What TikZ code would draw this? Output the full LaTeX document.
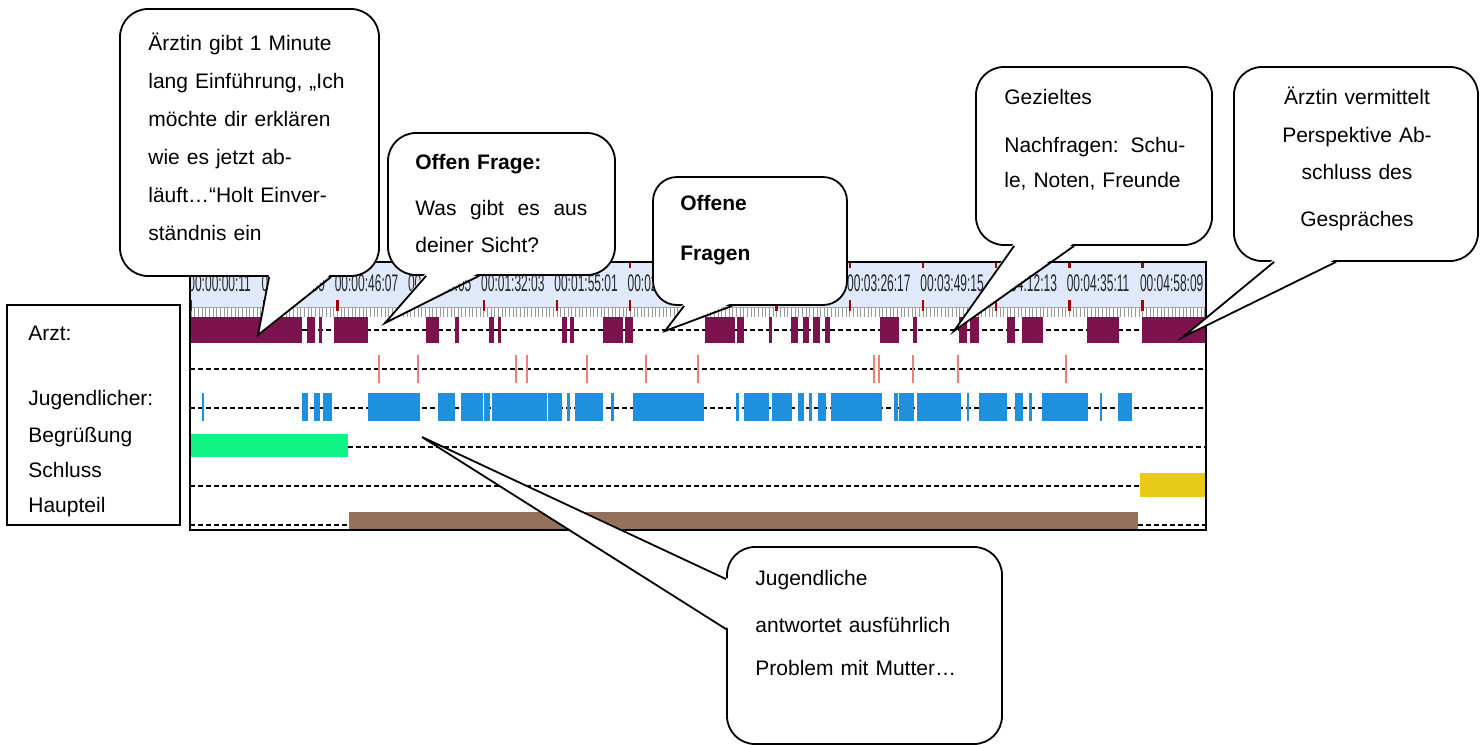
\documentclass[tikz,border=0pt]{standalone}
\usepackage{fontspec}
\setmainfont{Liberation Sans}
\usepackage{graphicx}
\usetikzlibrary{calc}

\definecolor{kopf}{RGB}{223,233,250}
\definecolor{arzt}{RGB}{124,18,78}
\definecolor{lachs}{RGB}{240,128,118}
\definecolor{jugend}{RGB}{30,144,222}
\definecolor{gruen}{RGB}{16,244,134}
\definecolor{gelb}{RGB}{232,202,24}
\definecolor{braun}{RGB}{148,113,90}
\definecolor{marke}{RGB}{160,0,0}

\newcommand{\zeit}[1]{\scalebox{0.5}[1]{#1}}

\begin{document}
\begin{tikzpicture}[x=0.5pt, y=-0.5pt]

\tikzset{
  blase/.style={rectangle, rounded corners=14pt, draw=black,
    line width=0.9pt, fill=white, inner sep=0pt},
  notiz/.style={anchor=base west, inner sep=0pt, align=left,
    font=\fontsize{10.5}{19}\selectfont},
  punkte/.style={dash pattern=on 2.4pt off 1.6pt, line width=0.9pt},
  zunge/.style={line width=0.9pt}
}

\useasboundingbox (0,0) rectangle (1480,745);
\fill[white] (0,0) rectangle (1480,745);

% ---- TIMELINE ----
\begin{scope}
\clip (190,262) rectangle (1206,530);
\fill[kopf] (190,262) rectangle (1206,307);
\draw[gray!70, line width=0.5pt] (190,307) -- (1206,307);
\foreach \i in {0,...,277}
  \draw[gray!80, line width=0.35pt] ({191+3.66*\i},308) -- ++(0,9);
\foreach \lab [count=\k from 0] in {00:00:00:11, 00:00:23:09, 00:00:46:07,
    00:01:09:05, 00:01:32:03, 00:01:55:01, 00:02:17:29, 00:02:40:27,
    00:03:03:25, 00:03:26:17, 00:03:49:15, 00:04:12:13, 00:04:35:11,
    00:04:58:09}
  \node[anchor=base west, inner sep=0pt, font=\fontsize{12}{12}\selectfont,
    text=black!85] at ({188+73.2*\k},291.5) {\zeit{\lab}};
\foreach \k in {0,...,13} {
  \draw[marke, line width=1.2pt] ({191+73.2*\k},262) -- ++(0,6);
  \draw[marke, line width=1.2pt] ({191+73.2*\k},300) -- ++(0,11);
}

% rows
\draw[punkte] (190,330) -- (1206,330);
\draw[punkte] (190,369) -- (1206,369);
\draw[punkte] (190,408) -- (1206,408);
\draw[punkte] (348,447) -- (1206,447);
\draw[punkte] (190,486) -- (1140,486);
\draw[punkte] (190,525) -- (349,525);
\draw[punkte] (1138,525) -- (1206,525);

\foreach \a/\b in {191/302, 307/315, 319/322, 334/368, 426/439, 455/459,
    489/494, 498/501, 562/567, 570/574, 603/623, 625/633, 705/735, 737/744,
    769/772, 791/798, 803/809, 813/820, 825/830, 880/899, 913/917, 959/967,
    970/979, 1007/1015, 1022/1043, 1087/1119, 1142/1206}
  \fill[arzt] (\a,317) rectangle (\b,343);
\foreach \a in {379, 418, 516, 527, 587, 646, 698, 874, 879, 913, 958, 1066}
  \draw[lachs, line width=0.8pt] (\a,355) -- (\a,383);
\foreach \a/\b in {202/204, 302/308, 314/320, 323/332, 368/420, 438/455,
    461/483, 484/490, 492/547, 548/562, 567/570, 575/603, 611/614, 633/704,
    736/739, 744/769, 772/792, 798/804, 809/812, 818/826, 831/882, 894/898,
    899/914, 917/961, 967/969, 979/1007, 1015/1023, 1029/1032, 1042/1088,
    1100/1102, 1118/1132}
  \fill[jugend] (\a,393) rectangle (\b,421);
\fill[gruen] (190,434) rectangle (348,457);
\fill[gelb]  (1140,473) rectangle (1206,497);
\fill[braun] (349,512) rectangle (1138,530);
\end{scope}
\draw[line width=1pt] (190,262) rectangle (1206,530);

% ---- LEGEND ----
\node (legende) [draw, line width=0.8pt, inner sep=0pt,
  minimum width=86.5pt, minimum height=110pt] at (93.5,415) {};
\node (zeilen) [notiz, text width=75pt, font=\fontsize{10.5}{17.5}\selectfont]
  at (28,340.5) {Arzt:\\[15pt]Jugendlicher:\\[1pt]Begrüßung\\Schluss\\Haupteil};

% ---- CALLOUTS ----
\node (b1) [blase, minimum width=129.5pt, minimum height=133.5pt] at (249.5,142.5) {};
\coordinate (z1) at (258,335);
\fill[white] ($(b1.south west)+(150,-3)$) -- (z1) -- ($(b1.south west)+(212,-3)$) -- cycle;
\draw[zunge] ($(b1.south west)+(150,0)$) -- (z1) -- ($(b1.south west)+(212,0)$);
\node (t1) [notiz, text width=100pt] at (148,50.5)
  {Ärztin gibt 1 Minute\\lang Einführung, „Ich\\möchte dir erklären\\wie es jetzt ab-\\läuft…“Holt Einver-\\ständnis ein};

\node (b2) [blase, minimum width=113.5pt, minimum height=71pt] at (501.5,204) {};
\coordinate (z2) at (385,323);
\fill[white] ($(b2.south west)+(39,-3)$) -- (z2) -- ($(b2.south west)+(92,-3)$) -- cycle;
\draw[zunge] ($(b2.south west)+(39,0)$) -- (z2) -- ($(b2.south west)+(92,0)$);
\node (t2) [notiz, text width=86pt, font=\fontsize{10.5}{18.5}\selectfont] at (415,169.5)
  {\textbf{Offen Frage:}\\[4.5pt]Was\hfill gibt\hfill es\hfill aus\\deiner Sicht?};

\node (b3) [blase, rounded corners=12pt, minimum width=97pt, minimum height=64pt] at (750,241) {};
\coordinate (z3) at (665,331);
\fill[white] ($(b3.south west)+(32,-3)$) -- (z3) -- ($(b3.south west)+(80,-3)$) -- cycle;
\draw[zunge] ($(b3.south west)+(32,0)$) -- (z3) -- ($(b3.south west)+(80,0)$);
\node (t3) [notiz, text width=80pt, font=\fontsize{10.5}{25}\selectfont\bfseries] at (680,210.5)
  {Offene\\Fragen};

\node (b4) [blase, minimum width=118pt, minimum height=89pt] at (1094,156) {};
\coordinate (z4) at (954,331);
\fill[white] ($(b4.south west)+(39,-3)$) -- (z4) -- ($(b4.south west)+(99,-3)$) -- cycle;
\draw[zunge] ($(b4.south west)+(39,0)$) -- (z4) -- ($(b4.south west)+(99,0)$);
\node (t4) [notiz, text width=90.5pt, font=\fontsize{10.5}{17.5}\selectfont] at (1004,104.5)
  {Gezieltes\\[6.5pt]Nachfragen:\hfill Schu-\\le, Noten, Freunde};

\node (b5) [blase, minimum width=122pt, minimum height=97pt] at (1356,164) {};
\coordinate (z5) at (1183,337);
\fill[white] ($(b5.south west)+(41,-3)$) -- (z5) -- ($(b5.south west)+(103,-3)$) -- cycle;
\draw[zunge] ($(b5.south west)+(41,0)$) -- (z5) -- ($(b5.south west)+(103,0)$);
\node (t5) [notiz, anchor=base, align=center, text width=120pt,
  font=\fontsize{10.5}{18.75}\selectfont] at (1357,104.5)
  {Ärztin vermittelt\\Perspektive Ab-\\schluss des\\[4.5pt]Gespräches};

\node (b6) [blase, minimum width=137.5pt, minimum height=98.5pt] at (864.5,645.5) {};
\coordinate (z6) at (422,437);
\fill[white] ($(b6.north west)+(3,33)$) -- (z6) -- ($(b6.north west)+(3,83)$) -- cycle;
\draw[zunge] ($(b6.north west)+(0,33)$) -- (z6) -- ($(b6.north west)+(0,83)$);
\node (t6) [notiz, text width=120pt, font=\fontsize{10.5}{21.5}\selectfont] at (755,585.5)
  {Jugendliche\\[2pt]antwortet ausführlich\\Problem mit Mutter…};

\end{tikzpicture}
\end{document}
